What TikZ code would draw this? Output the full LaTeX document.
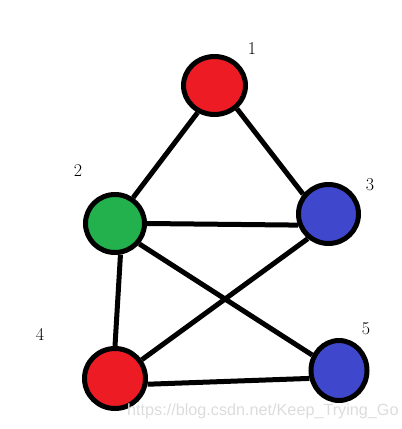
\documentclass[tikz,border=0pt]{standalone}
\usepackage{fontspec}
\usepackage{xcolor}
\usetikzlibrary{shapes.geometric}
\newfontfamily\wmfont{Liberation Sans}
\definecolor{paintred}{HTML}{ED1C24}
\definecolor{paintgreen}{HTML}{22B14C}
\definecolor{paintblue}{HTML}{3F48CC}
\definecolor{wmgray}{HTML}{DCDCDC}

\begin{document}
\begin{tikzpicture}[
			x=1pt,y=-1pt,
			vertex/.style={ellipse,draw,line width=5pt,inner sep=0pt,minimum width=60pt,minimum height=59pt},
			num/.style={font=\fontsize{18}{18}\selectfont},
			edge/.style={line width=5pt}
			]
			\useasboundingbox (0,0) rectangle (402,429);
			\node[vertex, fill=paintred, minimum width=62pt, minimum height=58pt] (v1) at (214.5,85.5) {};
			\node[vertex, fill=paintgreen, minimum width=59pt, minimum height=58pt] (v2) at (115,223.5) {};
			\node[vertex, fill=paintblue] (v3) at (328.5,214) {};
			\node[vertex, fill=paintred, minimum width=61pt, minimum height=60pt] (v4) at (115,378.5) {};
			\node[vertex, fill=paintblue, minimum width=56pt, minimum height=60pt] (v5) at (339,370.5) {};
			\node[num] (l1) at (252,49) {1};
			\node[num] (l2) at (78,171) {2};
			\node[num] (l3) at (370,185) {3};
			\node[num] (l4) at (40,334) {4};
			\node[num] (l5) at (366,329) {5};
			\draw[edge] (v1.238)--(v2.55);
			\draw[edge] (v1.-46)--(v3.142);
			\draw[edge] (v2.east)--(v3.200);
			\draw[edge] (v2.280)--(v4.north);
			\draw[edge] (v2.-40)--(v5.150);
			\draw[edge] (v3.230)--(v4.35);
			\draw[edge] (v4.-10)--(v5.195);
			\node[font=\wmfont\fontsize{16.2}{16.2}\selectfont, text=wmgray, anchor=west, inner sep=0pt] (mark) at (127,411) {https://blog.csdn.net/Keep\_Trying\_Go};
		\end{tikzpicture}
\end{document}
